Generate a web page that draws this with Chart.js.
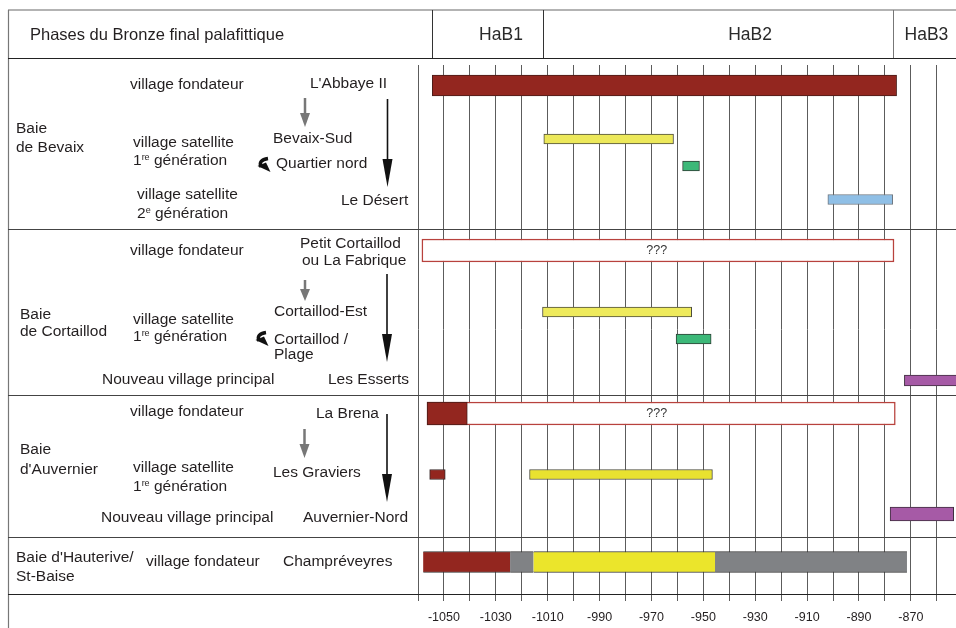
<!DOCTYPE html>
<html>
<head>
<meta charset="utf-8">
<title>Phases du Bronze final palafittique</title>
<script src="https://cdn.jsdelivr.net/npm/chart.js@4.4.1/dist/chart.umd.min.js"></script>
<style>
  html, body { margin: 0; padding: 0; background: #fff; }
  #wrap { position: relative; width: 956px; height: 628px; overflow: hidden; }
  #chart { position: absolute; left: 0; top: 0; }
  .lbl {
    position: absolute; white-space: nowrap; line-height: 1; transform: translateY(-50%);
    font-family: Arial, "Liberation Sans", Helvetica, sans-serif; font-size: 15.5px; color: #231f20;
  }
  .lbl sup { font-size: 9px; vertical-align: 5px; line-height: 0; }
  .title { font-size: 16.5px; }
</style>
</head>
<body>
<div id="wrap">
  <canvas id="chart" width="956" height="628"></canvas>
  <div id="labels"></div>
</div>
<script>
// sites, top to bottom
const sites = ["L'Abbaye II", "Bevaix-Sud", "Quartier nord", "Le Désert",
  "Petit Cortaillod", "Cortaillod-Est", "Cortaillod / Plage", "Les Esserts",
  "La Brena", "Les Graviers", "Auvernier-Nord", "Champréveyres"];

// occupation spans [site, start, end] in years BC
const founderSpans = [["L'Abbaye II", -1054.5, -875.5], ["La Brena", -1056.5, -1041]];
const uncertainSpans = [["Petit Cortaillod", -1058.5, -876.5], ["La Brena", -1056.5, -876]];
const earlySpans = [["Les Graviers", -1055.5, -1049.5]];
const satelliteSpans = [["Bevaix-Sud", -1011.5, -961.5], ["Cortaillod-Est", -1012, -954.5], ["Les Graviers", -1017, -946.5]];
const greenSpans = [["Quartier nord", -958, -951.5], ["Cortaillod / Plage", -960.5, -947]];
const blueSpans = [["Le Désert", -902, -877]];
const purpleSpans = [["Les Esserts", -872.5, -850], ["Auvernier-Nord", -878, -853.5]];
const hauteriveSpans = [["Champréveyres", -1058, -1024.5], ["Champréveyres", -1024.5, -1015.5],
  ["Champréveyres", -1015.5, -945.5], ["Champréveyres", -945.5, -871.5]];

const phaseNames = ["HaB1", "HaB2", "HaB3"];
const phaseStarts = [-1054.5, -1012, -877];
const tickLabels = [-1050, -1030, -1010, -990, -970, -950, -930, -910, -890, -870];

// layout: row position of each site (px below top of plot) and bar height
const rowY = {"L'Abbaye II": 20.5, "Bevaix-Sud": 74, "Quartier nord": 101, "Le Désert": 134.5,
  "Petit Cortaillod": 185.5, "Cortaillod-Est": 247, "Cortaillod / Plage": 274, "Les Esserts": 315.5,
  "La Brena": 348.5, "Les Graviers": 409.5, "Auvernier-Nord": 449, "Champréveyres": 497};
const barHeight = {"L'Abbaye II": 21, "Bevaix-Sud": 10, "Quartier nord": 10, "Le Désert": 10,
  "Petit Cortaillod": 23, "Cortaillod-Est": 10, "Cortaillod / Plage": 10, "Les Esserts": 11,
  "La Brena": 23, "Les Graviers": 10, "Auvernier-Nord": 14, "Champréveyres": 21};
const sectionBreaks = [163.5, 329.5, 471.5];
const phaseLabelAt = [-1028, -932, -864];
const unknownAt = -968;

const kinds = [
  { spans: founderSpans, fill: "#93261f", line: "#4a1c18", width: 1, order: 1 },
  { spans: uncertainSpans, fill: "#ffffff", line: "#b8423d", width: 1.5, order: 3 },
  { spans: earlySpans, fill: "#93261f", line: "#3a2a2a", width: 1, order: 1 },
  { spans: satelliteSpans, fill: ["#ece85a", "#eeea5c", "#e8e230"], line: "#4d4d3d", width: 1, order: 1 },
  { spans: greenSpans, fill: "#3cb878", line: "#2f3f36", width: 1, order: 1 },
  { spans: blueSpans, fill: "#8fbfe6", line: "#6f7780", width: 1, order: 1 },
  { spans: purpleSpans, fill: "#a65aa6", line: "#3f2f3f", width: 1, order: 1 },
  { spans: hauteriveSpans, fill: ["#93261f", "#808285", "#ebe52b", "#808285"], line: "#333333",
    width: { top: 1, bottom: 1, left: 0, right: 0 }, order: 1 },
];

const datasets = [];
kinds.forEach((k) => k.spans.forEach(([site, start, end], i) => {
  datasets.push({
    label: site,
    data: [{ x: [start, end], y: rowY[site] }],
    backgroundColor: Array.isArray(k.fill) ? k.fill[i] : k.fill,
    borderColor: k.line,
    borderWidth: k.width,
    borderSkipped: false,
    barThickness: barHeight[site],
    grouped: false,
    order: k.order,
  });
}));

function arrow(ctx, x, y1, y2, color, shaft, headW, headL) {
  ctx.strokeStyle = color;
  ctx.fillStyle = color;
  ctx.lineWidth = shaft;
  ctx.beginPath(); ctx.moveTo(x, y1); ctx.lineTo(x, y2 - headL + 1); ctx.stroke();
  ctx.beginPath();
  ctx.moveTo(x - headW / 2, y2 - headL); ctx.lineTo(x + headW / 2, y2 - headL); ctx.lineTo(x, y2);
  ctx.closePath(); ctx.fill();
}

function curl(ctx, ox, oy) {
  ctx.strokeStyle = "#111"; ctx.fillStyle = "#111"; ctx.lineWidth = 3.4;
  ctx.beginPath(); ctx.moveTo(ox + 11, oy + 1.5); ctx.quadraticCurveTo(ox + 1, oy + 3, ox + 4, oy + 10); ctx.stroke();
  ctx.beginPath(); ctx.moveTo(ox + 0.5, oy + 9); ctx.lineTo(ox + 9, oy + 5.5); ctx.lineTo(ox + 13.5, oy + 15);
  ctx.closePath(); ctx.fill();
}

function hline(ctx, y, x1, x2, color, w) {
  ctx.strokeStyle = color; ctx.lineWidth = w;
  ctx.beginPath(); ctx.moveTo(x1, y); ctx.lineTo(x2, y); ctx.stroke();
}
function vline(ctx, x, y1, y2, color, w) {
  ctx.strokeStyle = color; ctx.lineWidth = w;
  ctx.beginPath(); ctx.moveTo(x, y1); ctx.lineTo(x, y2); ctx.stroke();
}

const tableFrame = {
  id: "tableFrame",
  afterDatasetsDraw(chart) {
    const { ctx, scales: { x, y }, chartArea } = chart;
    const W = chart.width;
    ctx.save();
    // frame and header
    hline(ctx, 10, 8, W, "#9a9a9a", 1.5);
    vline(ctx, 8.5, 10, chart.height, "#777", 1.2);
    hline(ctx, 58.5, 8, W, "#222", 1.2);
    phaseStarts.forEach((p, i) => vline(ctx, Math.round(x.getPixelForValue(p)) + 0.5, 10, 58, i === 2 ? "#777" : "#333", 1));
    sectionBreaks.forEach((b) => hline(ctx, Math.round(y.getPixelForValue(b)) + 0.5, 8, W, "#444", 1.2));
    hline(ctx, chartArea.bottom + 0.5, 8, W, "#222", 1.2);

    ctx.fillStyle = "#2a2a2a";
    ctx.textAlign = "center";
    ctx.textBaseline = "middle";
    ctx.font = "17.5px Arial, 'Liberation Sans', sans-serif";
    phaseNames.forEach((n, i) => ctx.fillText(n, x.getPixelForValue(phaseLabelAt[i]), 35));

    ctx.font = "12.5px Arial, 'Liberation Sans', sans-serif";
    ctx.fillStyle = "#333";
    uncertainSpans.forEach(([site]) => ctx.fillText("???", x.getPixelForValue(unknownAt), y.getPixelForValue(rowY[site])));

    // filiation arrows
    arrow(ctx, 305, 98, 127, "#777", 2.5, 10, 14);
    arrow(ctx, 305, 280, 301, "#777", 2.5, 10, 12);
    arrow(ctx, 304.5, 429, 458, "#777", 2.5, 10, 14);
    arrow(ctx, 387.5, 99, 187, "#111", 1.6, 10, 28);
    arrow(ctx, 387, 274, 362, "#111", 1.6, 10, 28);
    arrow(ctx, 387, 414, 502, "#111", 1.6, 10, 28);
    curl(ctx, 257, 157);
    curl(ctx, 255, 331);
    ctx.restore();
  },
};

new Chart(document.getElementById("chart"), {
  type: "bar",
  data: { datasets },
  plugins: [tableFrame],
  options: {
    indexAxis: "y",
    responsive: false,
    devicePixelRatio: 1,
    animation: false,
    layout: { padding: { left: 418, top: 65, right: 0, bottom: 0 } },
    plugins: { legend: { display: false }, tooltip: { enabled: false } },
    scales: {
      x: {
        type: "linear",
        min: -1060,
        max: -852.6,
        afterFit: (scale) => { scale.height = 34; },
        afterBuildTicks: (scale) => { scale.ticks = scale.ticks.filter((t) => t.value % 10 === 0); },
        ticks: {
          stepSize: 10,
          includeBounds: false,
          autoSkip: false,
          maxRotation: 0,
          padding: 9,
          color: "#231f20",
          font: { family: "Arial, 'Liberation Sans', sans-serif", size: 12.5 },
          callback: (v) => (tickLabels.includes(v) ? String(v) : ""),
        },
        grid: { color: "#5c5c5c", lineWidth: 1, tickLength: 7, drawTicks: true },
        border: { display: false },
      },
      y: { type: "linear", min: 0, max: 529, reverse: true, offset: false, display: false },
    },
  },
});

// left-hand table text
const labels = [
  ["Phases du Bronze final palafittique", 30, 34, "title"],
  ["Baie", 16, 128], ["de Bevaix", 16, 147],
  ["village fondateur", 130, 84],
  ["village satellite", 133, 141.5], ["1<sup>re</sup> génération", 133, 160],
  ["village satellite", 137, 193.5], ["2<sup>e</sup> génération", 137, 212.5],
  ["L'Abbaye II", 310, 83], ["Bevaix-Sud", 273, 137.5], ["Quartier nord", 276, 162.5], ["Le Désert", 341, 199.5],
  ["Baie", 20, 313.5], ["de Cortaillod", 20, 331],
  ["village fondateur", 130, 250],
  ["village satellite", 133, 318.5], ["1<sup>re</sup> génération", 133, 336],
  ["Nouveau village principal", 102, 379],
  ["Petit Cortaillod", 300, 242.5], ["ou La Fabrique", 302, 260],
  ["Cortaillod-Est", 274, 311], ["Cortaillod /", 274, 339], ["Plage", 274, 353.5], ["Les Esserts", 328, 379],
  ["Baie", 20, 449], ["d'Auvernier", 20, 468.5],
  ["village fondateur", 130, 411],
  ["village satellite", 133, 467], ["1<sup>re</sup> génération", 133, 486],
  ["Nouveau village principal", 101, 517],
  ["La Brena", 316, 412.5], ["Les Graviers", 273, 472], ["Auvernier-Nord", 303, 517],
  ["Baie d'Hauterive/", 16, 557], ["St-Baise", 16, 575.5],
  ["village fondateur", 146, 561], ["Champréveyres", 283, 561],
];
const box = document.getElementById("labels");
labels.forEach(([html, left, top, cls]) => {
  const d = document.createElement("div");
  d.className = "lbl" + (cls ? " " + cls : "");
  d.innerHTML = html;
  d.style.left = left + "px";
  d.style.top = top + "px";
  box.appendChild(d);
});
</script>
</body>
</html>
